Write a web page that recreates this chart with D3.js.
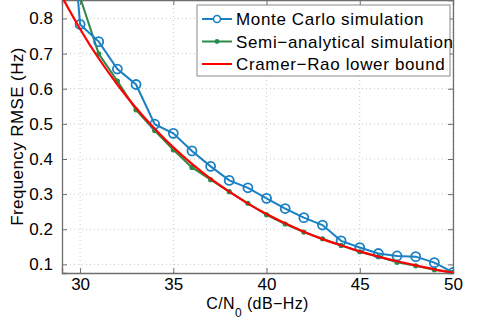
<!DOCTYPE html>
<html>
<head>
<meta charset="utf-8">
<script src="https://cdn.jsdelivr.net/npm/d3@7"></script>
<style>
  body { margin: 0; background: #fff; }
  svg text { font-family: "Liberation Sans", Arial, sans-serif; fill: #000; }
</style>
</head>
<body>
<div id="graph"></div>
<script>
// C/N0 values (dB-Hz)
var cn0 = [29, 30, 31, 32, 33, 34, 35, 36, 37, 38, 39, 40, 41, 42, 43, 44, 45, 46, 47, 48, 49, 50];

// Monte Carlo simulation RMSE (Hz)
var monteCarlo = [1.42, 0.783, 0.734, 0.656, 0.612, 0.499, 0.473, 0.423, 0.379, 0.339, 0.318,
                  0.288, 0.259, 0.233, 0.212, 0.167, 0.148, 0.131, 0.124, 0.122, 0.105, 0.077];

// Semi-analytical simulation RMSE (Hz)
var semiAnalytical = [1.2, 0.86, 0.699, 0.622, 0.540, 0.481, 0.426, 0.376, 0.341, 0.307, 0.274,
                      0.241, 0.215, 0.192, 0.173, 0.154, 0.136, 0.122, 0.106, 0.096, 0.085, 0.077];

// Cramer-Rao lower bound (Hz)
var crlb = [0.864, 0.770, 0.686, 0.612, 0.545, 0.486, 0.433, 0.386, 0.344, 0.307, 0.273,
            0.2435, 0.217, 0.193, 0.172, 0.154, 0.137, 0.122, 0.109, 0.097, 0.086, 0.077];

var xTicks = [30, 35, 40, 45, 50];
var yTicks = [0.1, 0.2, 0.3, 0.4, 0.5, 0.6, 0.7, 0.8];

var seriesNames = ["Monte Carlo simulation", "Semi\u2212analytical simulation", "Cramer\u2212Rao lower bound"];

var width = 486, height = 324;
var margin = {top: 0, right: 33, bottom: 51, left: 62};
var plotW = width - margin.left - margin.right,
    plotH = height - margin.top - margin.bottom;

var svg = d3.select("#graph").append("svg")
    .attr("width", width)
    .attr("height", height);

var x = d3.scaleLinear().domain([29.03, 50]).range([0, plotW]);
var y = d3.scaleLinear().domain([0.0755, 0.8525]).range([plotH, 0]);

var g = svg.append("g")
    .attr("transform", "translate(" + margin.left + "," + margin.top + ")");

svg.append("defs").append("clipPath").attr("id", "clip")
  .append("rect").attr("x", -1).attr("y", -1).attr("width", plotW + 2).attr("height", plotH + 2);

// grid
g.append("g").selectAll("line").data(xTicks).enter().append("line")
    .attr("x1", function(d) { return x(d); }).attr("x2", function(d) { return x(d); })
    .attr("y1", 0).attr("y2", plotH)
    .attr("stroke", "#c8c8c8").attr("stroke-width", 1).attr("stroke-dasharray", "1,3");
g.append("g").selectAll("line").data(yTicks).enter().append("line")
    .attr("y1", function(d) { return y(d); }).attr("y2", function(d) { return y(d); })
    .attr("x1", 0).attr("x2", plotW)
    .attr("stroke", "#c8c8c8").attr("stroke-width", 1).attr("stroke-dasharray", "1,3");

// axes (ticks pointing in, MATLAB style)
var axColor = "#6e6e6e";
var xAxis = g.append("g").attr("transform", "translate(0," + plotH + ")")
    .call(d3.axisBottom(x).tickValues(xTicks).tickSize(-5).tickPadding(5).tickFormat(d3.format("d")));
var yAxis = g.append("g")
    .call(d3.axisLeft(y).tickValues(yTicks).tickSize(-5).tickPadding(9).tickFormat(d3.format(".1f")));
var yAxisR = g.append("g").attr("transform", "translate(" + plotW + ",0)")
    .call(d3.axisRight(y).tickValues(yTicks).tickSize(-5).tickFormat(""));
var xAxisT = g.append("g")
    .call(d3.axisTop(x).tickValues(xTicks).tickSize(-5).tickFormat(""));

[xAxis, yAxis, yAxisR, xAxisT].forEach(function(a) {
  a.select(".domain").attr("stroke", axColor).attr("stroke-width", 1.3);
  a.selectAll(".tick line").attr("stroke", axColor);
  a.selectAll("text").attr("font-size", 17).attr("fill", "#000")
    .style("font-family", "'Liberation Sans', Arial, sans-serif");
});

var blue = "#1a80c4", green = "#2a8a4a", red = "#ff0000";

var plot = g.append("g").attr("clip-path", "url(#clip)");

var mcData = cn0.map(function(c, i) { return [c, monteCarlo[i]]; });
var saData = cn0.map(function(c, i) { return [c, semiAnalytical[i]]; });
var crData = cn0.map(function(c, i) { return [c, crlb[i]]; });

var line = d3.line().x(function(d) { return x(d[0]); }).y(function(d) { return y(d[1]); });
var smooth = d3.line().curve(d3.curveNatural)
    .x(function(d) { return x(d[0]); }).y(function(d) { return y(d[1]); });

plot.append("path").datum(saData).attr("fill", "none")
    .attr("stroke", green).attr("stroke-width", 2).attr("d", line);
plot.selectAll(".sa").data(saData).enter().append("circle")
    .attr("cx", function(d) { return x(d[0]); }).attr("cy", function(d) { return y(d[1]); })
    .attr("r", 2.6).attr("fill", green);

plot.append("path").datum(mcData).attr("fill", "none")
    .attr("stroke", blue).attr("stroke-width", 2).attr("d", line);
plot.selectAll(".mc").data(mcData).enter().append("circle")
    .attr("cx", function(d) { return x(d[0]); }).attr("cy", function(d) { return y(d[1]); })
    .attr("r", 4.5).attr("fill", "none").attr("stroke", blue).attr("stroke-width", 1.8);

plot.append("path").datum(crData).attr("fill", "none")
    .attr("stroke", red).attr("stroke-width", 2.2).attr("d", smooth);

// legend
var leg = svg.append("g").attr("transform", "translate(197,5)");
leg.append("rect").attr("width", 253).attr("height", 71)
    .attr("fill", "#fff").attr("stroke", "#8a8a8a").attr("stroke-width", 1);
var legColors = [blue, green, red];
seriesNames.forEach(function(name, i) {
  var cy = 14 + i * 22.5;
  var row = leg.append("g");
  row.append("line").attr("x1", 5).attr("x2", 35).attr("y1", cy).attr("y2", cy)
      .attr("stroke", legColors[i]).attr("stroke-width", 2);
  if (i === 0) {
    row.append("circle").attr("cx", 20).attr("cy", cy).attr("r", 3.5)
        .attr("fill", "#fff").attr("stroke", blue).attr("stroke-width", 1.6);
  } else if (i === 1) {
    row.append("circle").attr("cx", 20).attr("cy", cy).attr("r", 2.4).attr("fill", green);
  }
  row.append("text").attr("x", 39).attr("y", cy + 6).attr("font-size", 17)
      .attr("letter-spacing", 0.65).text(name);
});

// axis labels
var xl = svg.append("text")
    .attr("x", margin.left + plotW / 2).attr("y", 309)
    .attr("text-anchor", "middle").attr("font-size", 16).attr("letter-spacing", 0.4);
xl.append("tspan").text("C/N");
xl.append("tspan").attr("font-size", 12).attr("dy", 8).text("0");
xl.append("tspan").attr("dy", -8).text(" (dB\u2212Hz)");

svg.append("text")
    .attr("transform", "translate(23," + (margin.top + plotH / 2) + ") rotate(-90)")
    .attr("text-anchor", "middle").attr("font-size", 17).attr("letter-spacing", 0.4)
    .text("Frequency RMSE (Hz)");
</script>
</body>
</html>
